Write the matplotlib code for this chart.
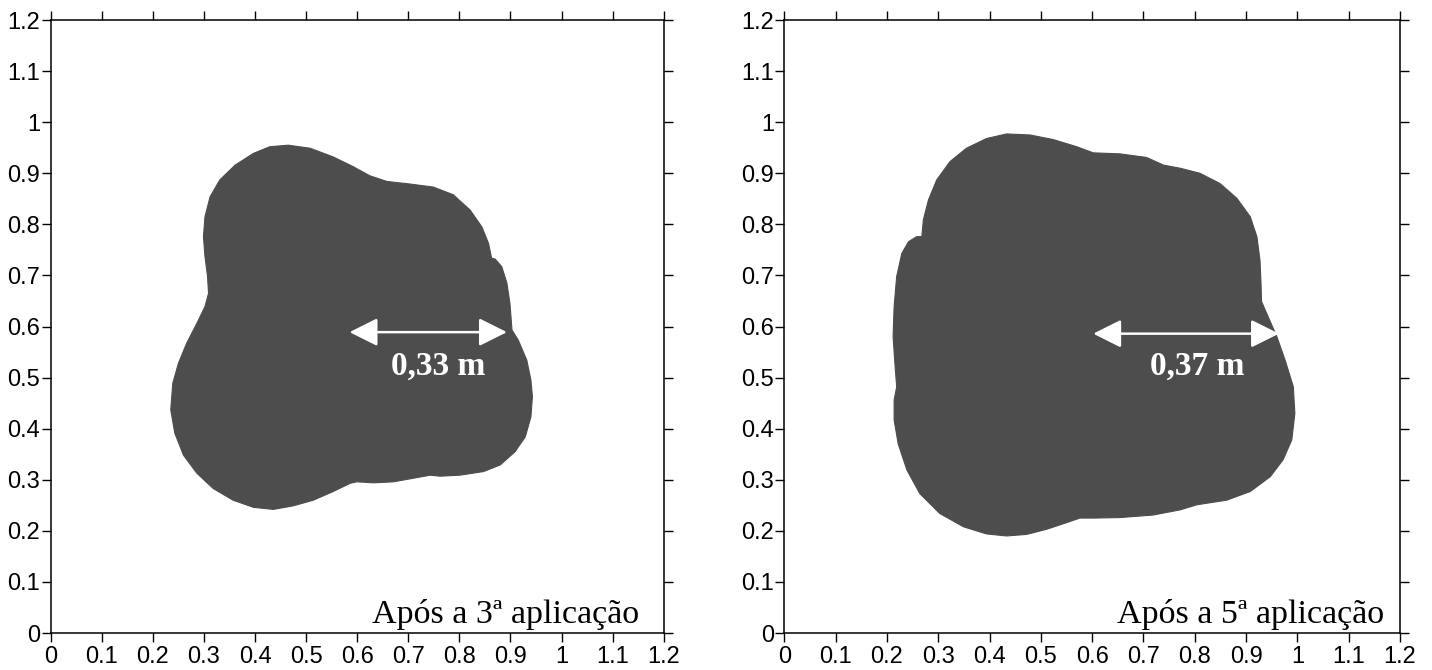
import matplotlib
matplotlib.use("Agg")
import matplotlib.pyplot as plt

plt.rcParams['font.family'] = ['Liberation Sans', 'DejaVu Sans']

# contour of the wetted zone after the 3rd application (m)
blob3_x = [0.465, 0.508, 0.553, 0.592, 0.625, 0.658, 0.703, 0.749, 0.788, 0.821,
           0.844, 0.857, 0.863, 0.870, 0.883, 0.893, 0.899, 0.903, 0.915, 0.932,
           0.940, 0.943, 0.940, 0.929, 0.909, 0.880, 0.847, 0.801, 0.762, 0.743,
           0.710, 0.671, 0.632, 0.599, 0.586, 0.553, 0.514, 0.475, 0.436, 0.397,
           0.357, 0.318, 0.286, 0.260, 0.243, 0.235, 0.239, 0.250, 0.266, 0.286,
           0.302, 0.309, 0.307, 0.302, 0.299, 0.302, 0.312, 0.331, 0.361, 0.397,
           0.429]
blob3_y = [0.955, 0.949, 0.932, 0.913, 0.895, 0.884, 0.879, 0.873, 0.858, 0.828,
           0.795, 0.763, 0.734, 0.732, 0.717, 0.685, 0.645, 0.593, 0.574, 0.534,
           0.495, 0.463, 0.423, 0.384, 0.355, 0.329, 0.316, 0.309, 0.307, 0.309,
           0.303, 0.296, 0.294, 0.296, 0.293, 0.277, 0.260, 0.249, 0.242, 0.246,
           0.260, 0.283, 0.313, 0.348, 0.391, 0.437, 0.489, 0.528, 0.567, 0.606,
           0.639, 0.665, 0.698, 0.737, 0.776, 0.815, 0.854, 0.887, 0.916, 0.939,
           0.952]

# contour after the 5th application (m)
blob5_x = [0.433, 0.479, 0.524, 0.570, 0.602, 0.654, 0.706, 0.739, 0.771, 0.810,
           0.849, 0.882, 0.908, 0.921, 0.927, 0.929, 0.930, 0.943, 0.960, 0.976,
           0.992, 0.995, 0.989, 0.972, 0.947, 0.908, 0.862, 0.823, 0.804, 0.771,
           0.719, 0.654, 0.602, 0.576, 0.550, 0.511, 0.472, 0.433, 0.394, 0.349,
           0.303, 0.264, 0.239, 0.222, 0.214, 0.214, 0.219, 0.216, 0.212, 0.214,
           0.219, 0.229, 0.242, 0.258, 0.268, 0.271, 0.281, 0.297, 0.323, 0.355,
           0.394]
blob5_y = [0.977, 0.975, 0.966, 0.952, 0.940, 0.938, 0.931, 0.916, 0.910, 0.900,
           0.880, 0.851, 0.815, 0.776, 0.730, 0.685, 0.649, 0.619, 0.580, 0.534,
           0.482, 0.430, 0.378, 0.339, 0.306, 0.277, 0.260, 0.254, 0.251, 0.241,
           0.231, 0.226, 0.225, 0.225, 0.216, 0.203, 0.193, 0.190, 0.194, 0.208,
           0.234, 0.273, 0.319, 0.370, 0.417, 0.456, 0.482, 0.521, 0.580, 0.639,
           0.698, 0.743, 0.766, 0.776, 0.776, 0.809, 0.848, 0.887, 0.923, 0.949,
           0.968]

# radius arrows: start x, end x, height, label
arrow3 = (0.585, 0.893, 0.589, '0,33 m')
arrow5 = (0.602, 0.964, 0.586, '0,37 m')
label3_pos = (0.758, 0.505)
label5_pos = (0.804, 0.505)

titles = ['Após a 3ª aplicação', 'Após a 5ª aplicação']
title_x = [1.152, 1.168]
ticks = [0, 0.1, 0.2, 0.3, 0.4, 0.5, 0.6, 0.7, 0.8, 0.9, 1, 1.1, 1.2]
tick_labels = ['0', '0.1', '0.2', '0.3', '0.4', '0.5', '0.6', '0.7', '0.8', '0.9', '1', '1.1', '1.2']

fig = plt.figure(figsize=(14.32, 6.70), dpi=100)
ax1 = fig.add_axes([0.0354, 0.0552, 0.4281, 0.9149])
ax2 = fig.add_axes([0.5477, 0.0552, 0.4300, 0.9149])

panels = [(ax1, blob3_x, blob3_y, arrow3, label3_pos, titles[0], title_x[0]),
          (ax2, blob5_x, blob5_y, arrow5, label5_pos, titles[1], title_x[1])]

for ax, bx, by, arr, lab_pos, title, tx in panels:
    ax.fill(bx, by, color='#4d4d4d', lw=0.8, ec='#4d4d4d', joinstyle='round')
    ax.annotate('', xy=(arr[1], arr[2]), xytext=(arr[0], arr[2]),
                arrowprops=dict(arrowstyle='<|-|>,head_length=0.86,head_width=0.43',
                                color='white', lw=1.8, mutation_scale=20,
                                shrinkA=0, shrinkB=0))
    ax.text(lab_pos[0], lab_pos[1], arr[3], color='white', ha='center', va='baseline',
            fontsize=24, fontweight='bold', family='Liberation Serif')
    ax.text(tx, 0.019, title, ha='right', va='baseline', fontsize=24.5,
            family='Liberation Serif')

    ax.set_xlim(0, 1.2)
    ax.set_ylim(0, 1.2)
    ax.set_xticks(ticks)
    ax.set_xticklabels(tick_labels)
    ax.set_yticks(ticks)
    ax.set_yticklabels(tick_labels)
    ax.tick_params(direction='out', length=6.5, width=1, labelsize=17,
                   top=True, right=True)
    ax.tick_params(axis='y', pad=1)
    ax.tick_params(axis='x', pad=3)
    for s in ax.spines.values():
        s.set_linewidth(1.1)

fig.savefig('out.png', dpi=100)
